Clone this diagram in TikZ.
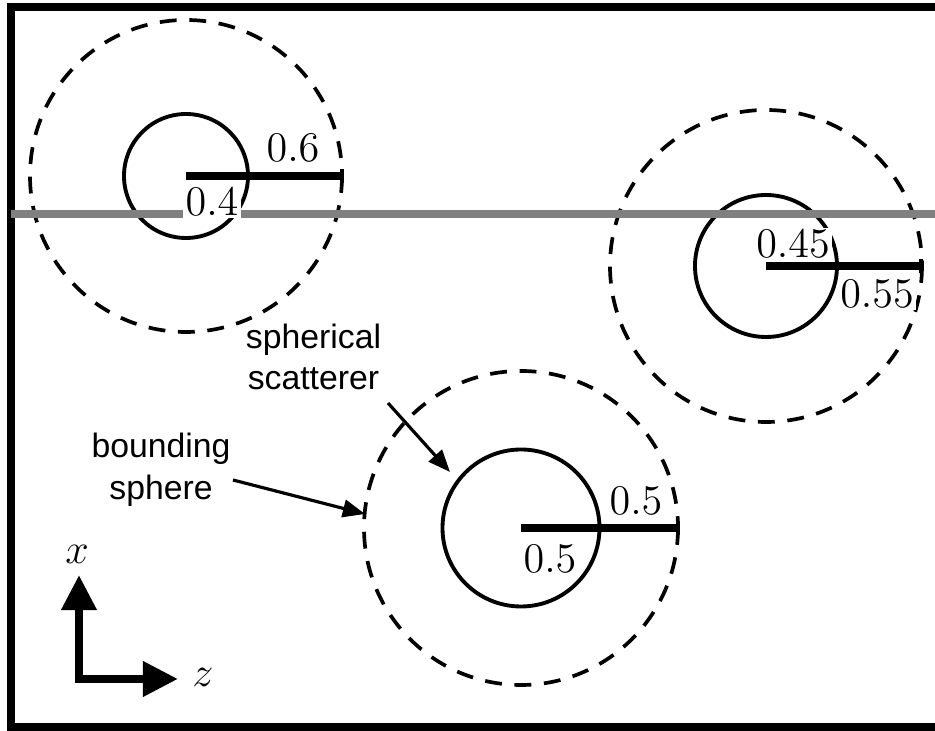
\documentclass[tikz,border=0pt]{standalone}
\usepackage{fontspec}
\newfontfamily\labelsans{Liberation Sans}
\usetikzlibrary{arrows.meta}
\begin{document}
\begin{tikzpicture}[x=0.01cm,y=-0.01cm,
  frameline/.style={line width=2.3pt},
  zline/.style={line width=2pt,color=black!50},
  scatterer/.style={line width=1.1pt},
  bounding/.style={line width=1.05pt,dash pattern=on 4.8pt off 3.6pt},
  radbar/.style={line width=2pt,line cap=butt},
  radtick/.style={line width=1pt},
  numlabel/.style={fill=white,inner sep=0.6pt,font=\fontsize{12.5}{14}\selectfont},
  callout/.style={align=center,inner sep=0pt,font=\labelsans\fontsize{9.6}{11.9}\selectfont},
  pointer/.style={line width=0.9pt,-{Triangle[length=6.3pt,width=5pt]}},
  axisarrow/.style={line width=2.3pt,line join=miter,{Triangle[length=10pt,width=9.6pt]}-{Triangle[length=10pt,width=9.6pt]}},
  axislabel/.style={inner sep=0pt,font=\fontsize{12.5}{14}\selectfont}]
\useasboundingbox (0,0) rectangle (935,731);
\clip (0,0) rectangle (935,731);
% frame (right side lies outside the picture)
\draw[frameline] (11,7) rectangle (980,727);
% centres and radius ends
\coordinate (c1) at (186,176);
\coordinate (e1) at (342,176);
\coordinate (c2) at (766,266);
\coordinate (e2) at (921,266);
\coordinate (c3) at (521,528);
\coordinate (e3) at (678,528);
% spheres
\draw[bounding] (c1) circle[radius=156];
\draw[scatterer] (c1) circle[radius=62];
\draw[bounding] (c2) circle[radius=156];
\draw[scatterer] (c2) circle[radius=71];
\draw[bounding] (c3) circle[radius=157];
\draw[scatterer] (c3) circle[radius=78.5];
% grey line
\coordinate (gl) at (11,214);
\coordinate (gr) at (940,214);
\draw[zline] (gl) -- (gr);
% radius bars
\draw[radbar] (c1) -- (e1);
\draw[radtick] ([yshift=1.9pt]e1) -- ([yshift=-1.9pt]e1);
\draw[radbar] (c2) -- (e2);
\draw[radtick] ([yshift=1.9pt]e2) -- ([yshift=-1.9pt]e2);
\draw[radbar] (c3) -- (e3);
\draw[radtick] ([yshift=1.9pt]e3) -- ([yshift=-1.9pt]e3);
% numbers
\node[numlabel] (n1a) at (293,148) {$0.6$};
\node[numlabel] (n1b) at (212,202) {$0.4$};
\node[numlabel] (n2a) at (793,244) {$0.45$};
\node[numlabel] (n2b) at (877,294) {$0.55$};
\node[numlabel] (n3a) at (636,501) {$0.5$};
\node[numlabel] (n3b) at (550,559) {$0.5$};
% callouts
\node[callout] (scat) at (313.5,357) {spherical\\scatterer};
\node[callout] (bound) at (161,470) {bounding\\sphere};
\coordinate (scatfrom) at (388,403);
\coordinate (scatto) at (450,472);
\coordinate (boundfrom) at (233,480);
\coordinate (boundto) at (365,514);
\draw[pointer] (scatfrom) -- (scatto);
\draw[pointer] (boundfrom) -- (boundto);
% axes
\coordinate (ao) at (79,679);
\coordinate (ax) at (79,575);
\coordinate (az) at (178,679);
\draw[axisarrow] (ax) -- (ao) -- (az);
\node[axislabel] (xl) at (77,554) {$x$};
\node[axislabel] (zl) at (203,677) {$z$};
\end{tikzpicture}
\end{document}
